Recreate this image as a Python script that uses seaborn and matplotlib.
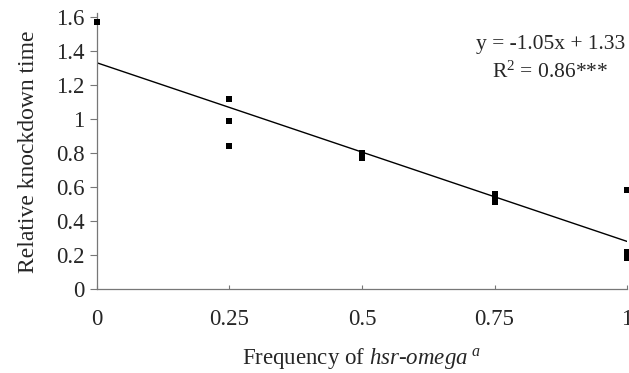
import numpy as np
import pandas as pd
import seaborn as sns
import matplotlib
matplotlib.use("Agg")
import matplotlib.pyplot as plt

# Data
freq = [0, 0.25, 0.25, 0.25, 0.5, 0.5, 0.5, 0.75, 0.75, 0.75, 1, 1, 1]
knockdown = [1.57, 1.12, 0.99, 0.84, 0.80, 0.78, 0.77, 0.56, 0.54, 0.51, 0.58, 0.22, 0.18]
slope = -1.05
intercept = 1.33
x_ticks = [0, 0.25, 0.5, 0.75, 1]
x_tick_labels = ["0", "0.25", "0.5", "0.75", "1"]
y_ticks = [0, 0.2, 0.4, 0.6, 0.8, 1.0, 1.2, 1.4, 1.6]
y_tick_labels = ["0", "0.2", "0.4", "0.6", "0.8", "1", "1.2", "1.4", "1.6"]

sns.set_style("white")
plt.rcParams["font.family"] = ["Liberation Serif", "DejaVu Serif"]
plt.rcParams["mathtext.fontset"] = "custom"
plt.rcParams["mathtext.rm"] = "Liberation Serif"
plt.rcParams["mathtext.it"] = "Liberation Serif:italic"

df = pd.DataFrame({"freq": freq, "time": knockdown})
fit = pd.DataFrame({"freq": [0, 1]})
fit["time"] = slope * fit["freq"] + intercept

fig = plt.figure(figsize=(6.29, 3.73), dpi=100)
ax = fig.add_axes([0.154, 0.225, 0.843, 0.739])

sns.lineplot(data=fit, x="freq", y="time", color="black", linewidth=1, ax=ax)
sns.scatterplot(data=df, x="freq", y="time", marker="s", s=14, color="black",
                edgecolor="black", linewidth=0, ax=ax, clip_on=False, zorder=3)

ax.set_xlim(0, 1)
ax.set_ylim(0, 1.62)
ax.set_xticks(x_ticks)
ax.set_xticklabels(x_tick_labels)
ax.set_yticks(y_ticks)
ax.set_yticklabels(y_tick_labels)
ax.tick_params(axis="y", direction="out", length=5, width=0.8, color="#777777",
               labelsize=16.5, pad=4, left=True)
ax.tick_params(axis="x", direction="in", length=3, width=0.8, color="#777777",
               labelsize=16.5, pad=14, bottom=True)

for side in ["top", "right"]:
    ax.spines[side].set_visible(False)
for side in ["left", "bottom"]:
    ax.spines[side].set_color("#777777")
    ax.spines[side].set_linewidth(0.9)

ax.set_ylabel("Relative knockdown time", fontsize=17, labelpad=12)
ax.set_xlabel(r"Frequency of $hsr$-$omega^{\ a}$", fontsize=16.5, labelpad=12)

ax.text(0.855, 0.886, "y = -1.05x + 1.33", transform=ax.transAxes,
        ha="center", va="center", fontsize=15.5)
ax.text(0.855, 0.788, r"R$^2$ = 0.86***", transform=ax.transAxes,
        ha="center", va="center", fontsize=15.5)

fig.savefig("out.png", dpi=100)
